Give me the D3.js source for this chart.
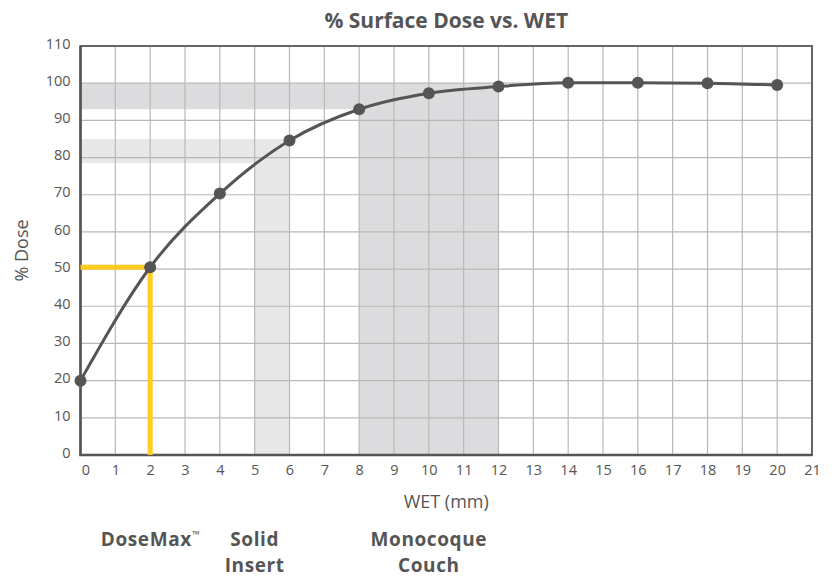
<!DOCTYPE html>
<html>
<head>
<meta charset="utf-8">
<script src="https://cdn.jsdelivr.net/npm/d3@7"></script>
<style>
  body { margin: 0; background: #fff; }
  svg text { font-family: "Open Sans", sans-serif; fill: #555; }
</style>
</head>
<body>
<svg id="chart"></svg>
<script>
// Data
const wet = [0, 2, 4, 6, 8, 10, 12, 14, 16, 18, 20];
const dose = [20, 50.5, 70.3, 84.6, 93.0, 97.3, 99.1, 100.1, 100.1, 100.0, 99.5];
const xTicks = d3.range(0, 22);
const yTicks = d3.range(0, 120, 10);

// Shaded regions
const couchBand = { x0: 8, x1: 12, yLow: 93, yHigh: 100 };
const insertBand = { x0: 5, x1: 6, yLow: 78.5, yHigh: 85 };
const doseMaxMark = { x: 2, y: 50.5 };

const labels = [
  { x: 2, lines: ['DoseMax'], tm: true },
  { x: 5, lines: ['Solid', 'Insert'] },
  { x: 10, lines: ['Monocoque', 'Couch'] }
];

const config = {
  width: 837,
  height: 577,
  margin: { top: 46, right: 25, bottom: 122, left: 80.5 }
};

const innerW = config.width - config.margin.left - config.margin.right;
const innerH = config.height - config.margin.top - config.margin.bottom;

const svg = d3.select('#chart')
  .attr('width', config.width)
  .attr('height', config.height);

const g = svg.append('g')
  .attr('transform', `translate(${config.margin.left},${config.margin.top})`);

// Scales
const xScale = d3.scaleLinear().domain([0, 21]).range([0, innerW]);
const yScale = d3.scaleLinear().domain([0, 110]).range([innerH, 0]);

// Shaded bands (L shapes)
function band(b, color) {
  g.append('rect')
    .attr('x', xScale(0))
    .attr('y', yScale(b.yHigh))
    .attr('width', xScale(b.x1) - xScale(0))
    .attr('height', yScale(b.yLow) - yScale(b.yHigh))
    .attr('fill', color);
  g.append('rect')
    .attr('x', xScale(b.x0))
    .attr('y', yScale(b.yHigh))
    .attr('width', xScale(b.x1) - xScale(b.x0))
    .attr('height', yScale(0) - yScale(b.yHigh))
    .attr('fill', color);
}
band(insertBand, '#e8e8e8');
band(couchBand, '#dcdcdf');

// Grid
g.append('g')
  .selectAll('line')
  .data(xTicks.slice(1, -1))
  .join('line')
  .attr('x1', d => xScale(d)).attr('x2', d => xScale(d))
  .attr('y1', 0).attr('y2', innerH)
  .attr('stroke', '#b8b8b8').attr('stroke-width', 1.2);

g.append('g')
  .selectAll('line')
  .data(yTicks.slice(1, -1))
  .join('line')
  .attr('x1', 0).attr('x2', innerW)
  .attr('y1', d => yScale(d)).attr('y2', d => yScale(d))
  .attr('stroke', '#b8b8b8').attr('stroke-width', 1.2);

// Frame
g.append('rect')
  .attr('width', innerW).attr('height', innerH)
  .attr('fill', 'none').attr('stroke', '#666').attr('stroke-width', 2);
g.append('path')
  .attr('d', `M0,0V${innerH}H${innerW}`)
  .attr('fill', 'none').attr('stroke', '#555').attr('stroke-width', 2.5);

// DoseMax yellow marker
g.append('path')
  .attr('d', `M${xScale(0)},${yScale(doseMaxMark.y)}H${xScale(doseMaxMark.x)}V${yScale(0)}`)
  .attr('fill', 'none')
  .attr('stroke', '#ffcc22')
  .attr('stroke-width', 5);

// Curve
const points = wet.map((d, i) => ({ x: d, y: dose[i] }));
const line = d3.line()
  .x(d => xScale(d.x))
  .y(d => yScale(d.y))
  .curve(d3.curveMonotoneX);

g.append('path')
  .datum(points)
  .attr('d', line)
  .attr('fill', 'none')
  .attr('stroke', '#555')
  .attr('stroke-width', 3);

g.append('g')
  .selectAll('circle')
  .data(points)
  .join('circle')
  .attr('cx', d => xScale(d.x))
  .attr('cy', d => yScale(d.y))
  .attr('r', 6)
  .attr('fill', '#555');

// Axes (labels only)
const xAxis = d3.axisBottom(xScale).tickValues(xTicks).tickSize(0).tickPadding(10);
const xAxisG = g.append('g')
  .attr('transform', `translate(0,${innerH})`)
  .call(xAxis);
xAxisG.select('.domain').remove();
xAxisG.selectAll('text')
  .attr('font-size', 14.5)
  .attr('dx', d => d === 0 ? 5 : 0)
  .style('font-family', '"Open Sans", sans-serif')
  .attr('fill', '#555');

const yAxis = d3.axisLeft(yScale).tickValues(yTicks).tickSize(0).tickPadding(10);
const yAxisG = g.append('g').call(yAxis);
yAxisG.select('.domain').remove();
yAxisG.selectAll('text')
  .attr('font-size', 14.5)
  .attr('dy', '0.15em')
  .style('font-family', '"Open Sans", sans-serif')
  .attr('fill', '#555');

// Titles
svg.append('text')
  .attr('x', config.margin.left + innerW / 2)
  .attr('y', 28)
  .attr('text-anchor', 'middle')
  .attr('font-size', 21)
  .attr('font-weight', 'bold')
  .text('% Surface Dose vs. WET');

svg.append('text')
  .attr('transform', `translate(28,${config.margin.top + innerH / 2}) rotate(-90)`)
  .attr('text-anchor', 'middle')
  .attr('font-size', 18)
  .text('% Dose');

svg.append('text')
  .attr('x', config.margin.left + innerW / 2)
  .attr('y', 508)
  .attr('text-anchor', 'middle')
  .attr('font-size', 18)
  .text('WET (mm)');

// Bottom category labels, one text per line
const lab = svg.append('g')
  .attr('transform', `translate(${config.margin.left},0)`);
labels.forEach(l => {
  l.lines.forEach((s, i) => {
    const t = lab.append('text')
      .attr('x', xScale(l.x))
      .attr('y', 546 + i * 26)
      .attr('text-anchor', 'middle')
      .attr('font-size', 19)
      .attr('letter-spacing', 0.6)
      .attr('font-weight', 'bold');
    t.append('tspan').text(s);
    if (l.tm && i === 0) {
      t.append('tspan')
        .attr('font-size', 10)
        .attr('font-weight', 'normal')
        .attr('letter-spacing', 0)
        .attr('dy', -8)
        .text('™');
    }
  });
});
</script>
</body>
</html>
